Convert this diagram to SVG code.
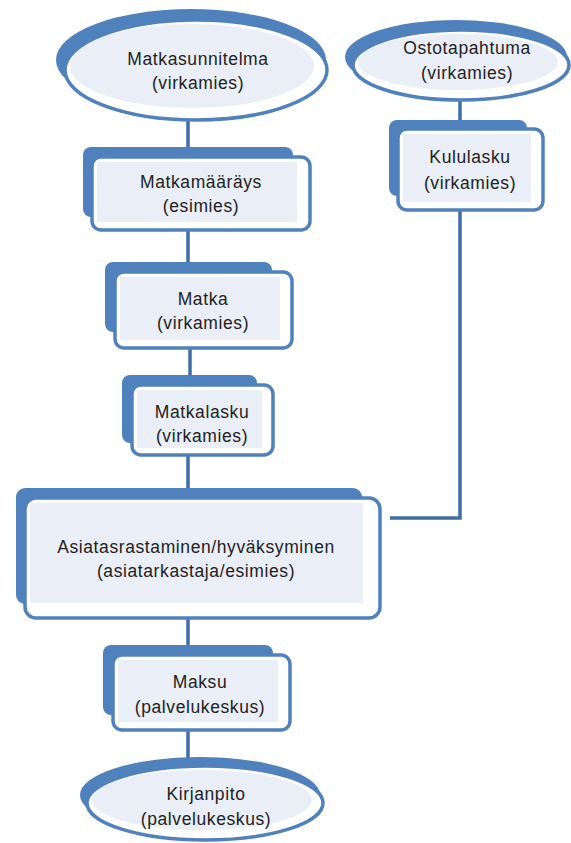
<svg xmlns="http://www.w3.org/2000/svg" width="571" height="843" viewBox="0 0 571 843">
  <style>
    .back { fill: #4f81bd; }
    .front { fill: #ffffff; stroke: #4f81bd; stroke-width: 3.5; }
    .inner { fill: #e9eef7; }
    .conn { fill: none; stroke: #3f6ea6; stroke-width: 3.5; }
    text { font-family: "Liberation Sans", Arial, sans-serif; font-size: 17.5px; letter-spacing: 0.6px; fill: #222222; text-anchor: middle; }
  </style>
  <rect width="571" height="843" fill="#ffffff"/>

  <!-- connectors -->
  <g id="connectors">
    <line class="conn" x1="188" y1="120" x2="188" y2="148"/>
    <line class="conn" x1="188" y1="230" x2="188" y2="263"/>
    <line class="conn" x1="190" y1="348" x2="190" y2="376"/>
    <line class="conn" x1="188" y1="455" x2="188" y2="489"/>
    <line class="conn" x1="188" y1="618" x2="188" y2="646"/>
    <line class="conn" x1="188" y1="730" x2="188" y2="762"/>
    <line class="conn" x1="460" y1="100" x2="460" y2="121"/>
    <polyline class="conn" points="460,210 460,518 390,518"/>
  </g>

  <!-- start: travel plan -->
  <g id="matkasunnitelma">
    <ellipse class="back" cx="191" cy="60" rx="135" ry="51"/>
    <ellipse class="front" cx="196" cy="70" rx="131" ry="50"/>
    <ellipse class="inner" cx="192" cy="66" rx="122" ry="42"/>
    <text x="198" y="65">Matkasunnitelma</text>
    <text x="198" y="89">(virkamies)</text>
  </g>

  <!-- start: purchase event -->
  <g id="ostotapahtuma">
    <ellipse class="back" cx="456" cy="57" rx="111" ry="37"/>
    <ellipse class="front" cx="461" cy="65" rx="108" ry="35"/>
    <ellipse class="inner" cx="458" cy="62" rx="100" ry="28"/>
    <text x="467" y="54">Ostotapahtuma</text>
    <text x="467" y="79">(virkamies)</text>
  </g>

  <g id="kululasku">
    <rect class="back" x="389" y="120" width="138" height="76" rx="8"/>
    <rect class="front" x="398" y="129" width="145" height="81" rx="9"/>
    <rect class="inner" x="403" y="134" width="128" height="68"/>
    <text x="470" y="163">Kululasku</text>
    <text x="470" y="189">(virkamies)</text>
  </g>

  <g id="matkamaarays">
    <rect class="back" x="83" y="147" width="210" height="70" rx="8"/>
    <rect class="front" x="92" y="157" width="218" height="73" rx="9"/>
    <rect class="inner" x="97" y="162" width="200" height="60"/>
    <text x="201" y="188">Matkamääräys</text>
    <text x="201" y="212">(esimies)</text>
  </g>

  <g id="matka">
    <rect class="back" x="105" y="262" width="167" height="70" rx="8"/>
    <rect class="front" x="115" y="272" width="177" height="76" rx="9"/>
    <rect class="inner" x="120" y="277" width="160" height="63"/>
    <text x="203" y="305">Matka</text>
    <text x="203" y="329">(virkamies)</text>
  </g>

  <g id="matkalasku">
    <rect class="back" x="122" y="375" width="135" height="68" rx="8"/>
    <rect class="front" x="132" y="385" width="141" height="70" rx="9"/>
    <rect class="inner" x="137" y="390" width="125" height="58"/>
    <text x="202" y="418">Matkalasku</text>
    <text x="202" y="442">(virkamies)</text>
  </g>

  <g id="asiatarkastus">
    <rect class="back" x="16" y="488" width="346" height="116" rx="9"/>
    <rect class="front" x="25" y="498" width="355" height="120" rx="11"/>
    <rect class="inner" x="30" y="503" width="333" height="100"/>
    <text x="196" y="553">Asiatasrastaminen/hyväksyminen</text>
    <text x="196" y="577">(asiatarkastaja/esimies)</text>
  </g>

  <g id="maksu">
    <rect class="back" x="103" y="645" width="170" height="70" rx="8"/>
    <rect class="front" x="113" y="655" width="177" height="75" rx="9"/>
    <rect class="inner" x="118" y="660" width="160" height="62"/>
    <text x="200" y="688">Maksu</text>
    <text x="200" y="713">(palvelukeskus)</text>
  </g>

  <!-- end: bookkeeping -->
  <g id="kirjanpito">
    <ellipse class="back" cx="200" cy="795" rx="120" ry="38"/>
    <ellipse class="front" cx="205" cy="803" rx="118" ry="37"/>
    <ellipse class="inner" cx="202" cy="800" rx="110" ry="30"/>
    <text x="206" y="800">Kirjanpito</text>
    <text x="206" y="825">(palvelukeskus)</text>
  </g>
</svg>
